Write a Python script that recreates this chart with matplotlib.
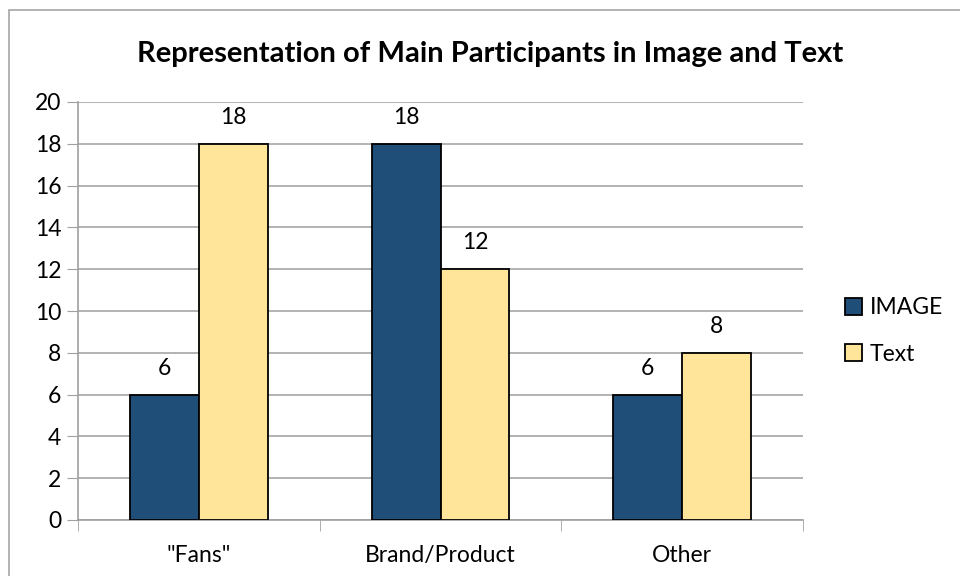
import matplotlib.pyplot as plt
import numpy as np
from matplotlib.patches import Rectangle

plt.rcParams['font.family'] = ['Lato', 'DejaVu Sans']

categories = ['"Fans"', 'Brand/Product', 'Other']
image_vals = [6, 18, 6]
text_vals = [18, 12, 8]
series_names = ['IMAGE', 'Text']
y_ticks = [0, 2, 4, 6, 8, 10, 12, 14, 16, 18, 20]

fig = plt.figure(figsize=(9.6, 5.76), dpi=100)

# chart area border
fig.patches.append(Rectangle((8.5 / 960, -0.1), 1.2, 1 - 9.5 / 576 + 0.1,
                             transform=fig.transFigure, fill=False,
                             edgecolor='#a6a6a6', linewidth=1.2))

ax = fig.add_axes([78 / 960, 1 - 520 / 576, (803 - 78) / 960, (520 - 102) / 576])

x = np.arange(len(categories))
w = 0.285
b1 = ax.bar(x - w / 2, image_vals, w, color='#1f4e79', edgecolor='black',
            linewidth=1.3, label=series_names[0], zorder=3)
b2 = ax.bar(x + w / 2, text_vals, w, color='#fee599', edgecolor='black',
            linewidth=1.3, label=series_names[1], zorder=3)

for bars, vals in ((b1, image_vals), (b2, text_vals)):
    for r, v in zip(bars, vals):
        ax.annotate(str(v), (r.get_x() + r.get_width() / 2, v),
                    xytext=(0, 19), textcoords='offset points',
                    ha='center', va='center', fontsize=16.5)

ax.set_xlim(-0.5, len(categories) - 0.5)
ax.set_ylim(0, 20)
ax.set_yticks(y_ticks)
ax.set_xticks(x)
ax.set_xticklabels(categories)
ax.set_xticks(np.arange(len(categories) + 1) - 0.5, minor=True)
ax.tick_params(axis='x', which='major', length=0, pad=18, labelsize=16.5)
ax.tick_params(axis='x', which='minor', length=8, color='#a0a0a0', direction='out')
ax.tick_params(axis='y', length=8, color='#a0a0a0', labelsize=16.5, pad=4)
ax.grid(axis='y', color='#a6a6a6', linewidth=1.2, zorder=0)

for s in ['top', 'right']:
    ax.spines[s].set_visible(False)
for s in ['left', 'bottom']:
    ax.spines[s].set_color('#a0a0a0')
    ax.spines[s].set_linewidth(1.2)

leg = ax.legend(loc='center left', bbox_to_anchor=(1.0 + 21 / 725, 0.5 - 20 / 418),
                frameon=False, fontsize=16.5, handlelength=0.75, handleheight=0.75,
                handletextpad=0.35, labelspacing=1.1, borderaxespad=0.5)

fig.text(490 / 960, 1 - 54 / 576, 'Representation of Main Participants in Image and Text',
         ha='center', va='center', fontsize=21, fontweight='bold')

fig.savefig('out.png', dpi=100)
